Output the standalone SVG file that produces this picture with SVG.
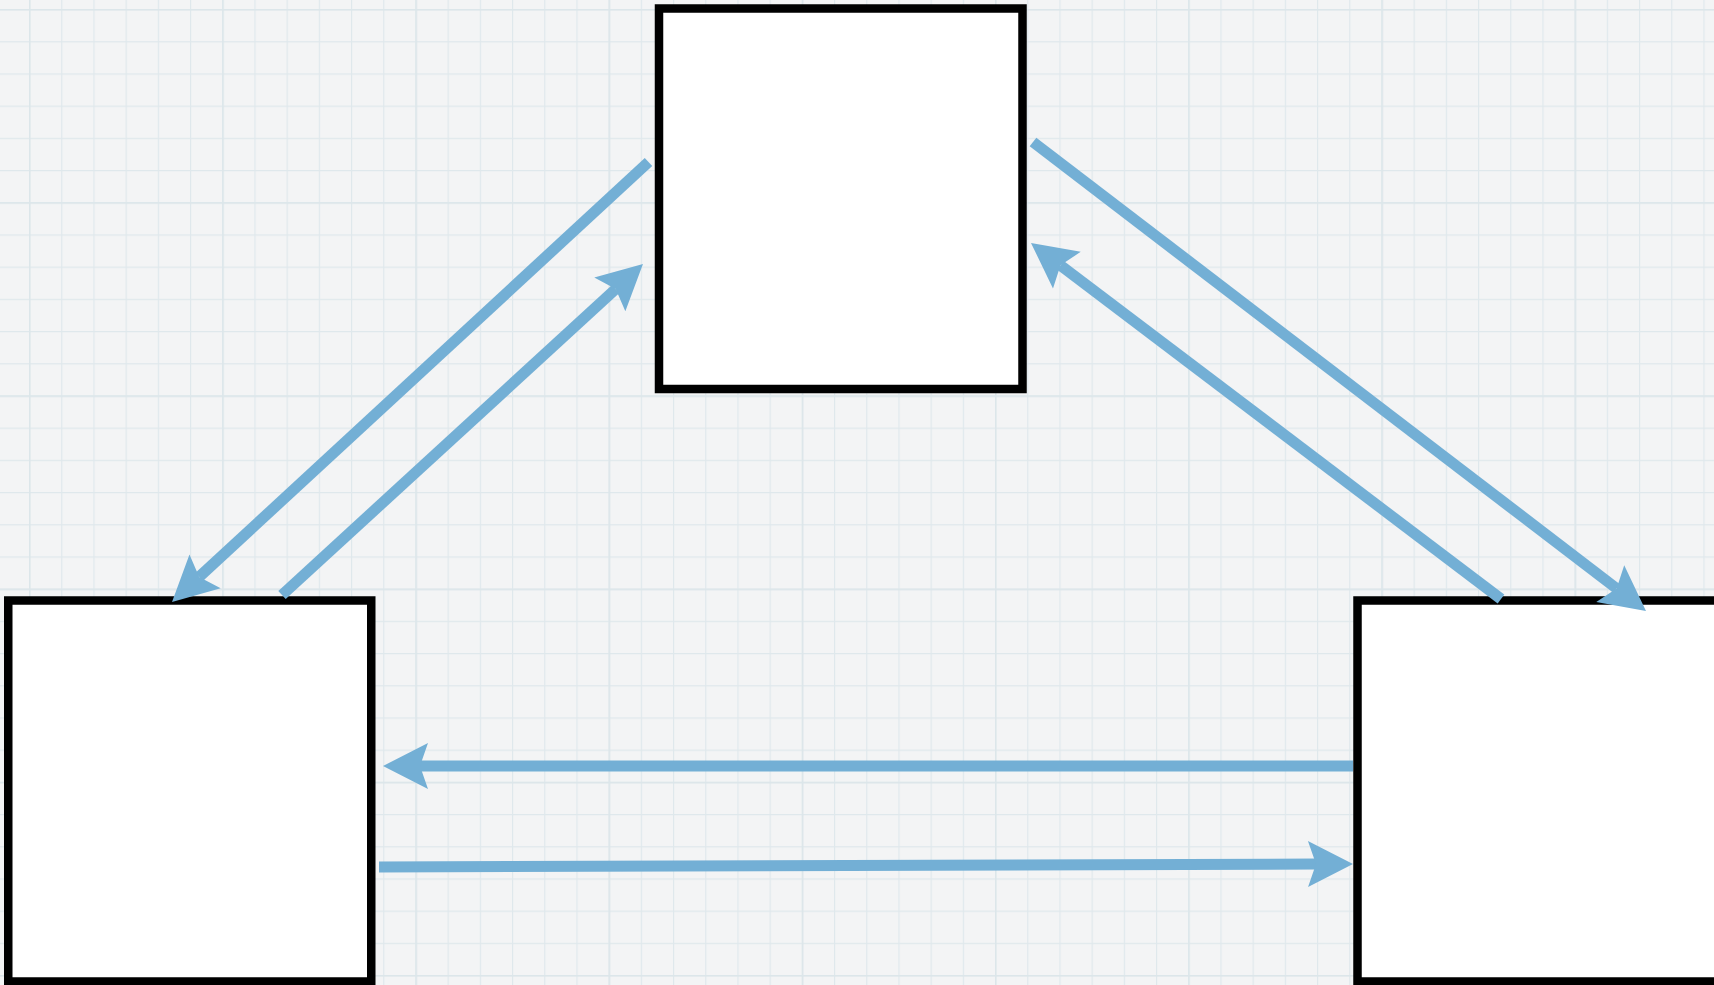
<svg xmlns="http://www.w3.org/2000/svg" width="1714" height="985" viewBox="0 0 1714 985">
<style>
.box{fill:#ffffff;stroke:#000000;stroke-width:8.5}
.conn{stroke:#73afd5;stroke-width:11;fill:none;marker-end:url(#ah)}
</style>
<defs>
<pattern id="minor" patternUnits="userSpaceOnUse" x="29" y="9" width="32.2" height="32.2">
<path d="M0,0 V32.2 M0,0 H32.2" stroke="#dfe8ec" stroke-width="2.4" fill="none"/>
</pattern>
<pattern id="major" patternUnits="userSpaceOnUse" x="29" y="9" width="193.2" height="193.2">
<path d="M0,0 V193.2 M0,0 H193.2" stroke="#dce6ea" stroke-width="3" fill="none"/>
</pattern>
<marker id="ah" markerUnits="userSpaceOnUse" viewBox="-10 -26 52 52" markerWidth="52" markerHeight="52" refX="0" refY="0" orient="auto">
<path d="M37,0 L-8,-23 L0,0 L-8,23 Z" fill="#73afd5"/>
</marker>
</defs>
<rect x="0" y="0" width="1714" height="985" fill="#f3f4f5"/>
<rect x="0" y="0" width="1714" height="985" fill="url(#minor)"/>
<rect x="0" y="0" width="1714" height="985" fill="url(#major)"/>
<g id="node-top"><rect class="box" x="659" y="8.5" width="363.5" height="380.5"/></g>
<g id="node-left"><rect class="box" x="8.25" y="600.5" width="363" height="381"/></g>
<g id="node-right"><rect class="box" x="1357.5" y="600.5" width="363" height="381"/></g>
<g id="connectors">
<line class="conn" x1="648.5" y1="162" x2="199.2" y2="576.9"/>
<line class="conn" x1="282" y1="595" x2="615.7" y2="289"/>
<line class="conn" x1="1033" y1="142" x2="1616.6" y2="588.5"/>
<line class="conn" x1="1501" y1="599" x2="1060.5" y2="265.3"/>
<line class="conn" x1="1353" y1="766" x2="420" y2="766"/>
<line class="conn" x1="379" y1="867" x2="1316" y2="864.1"/>
</g>
</svg>
